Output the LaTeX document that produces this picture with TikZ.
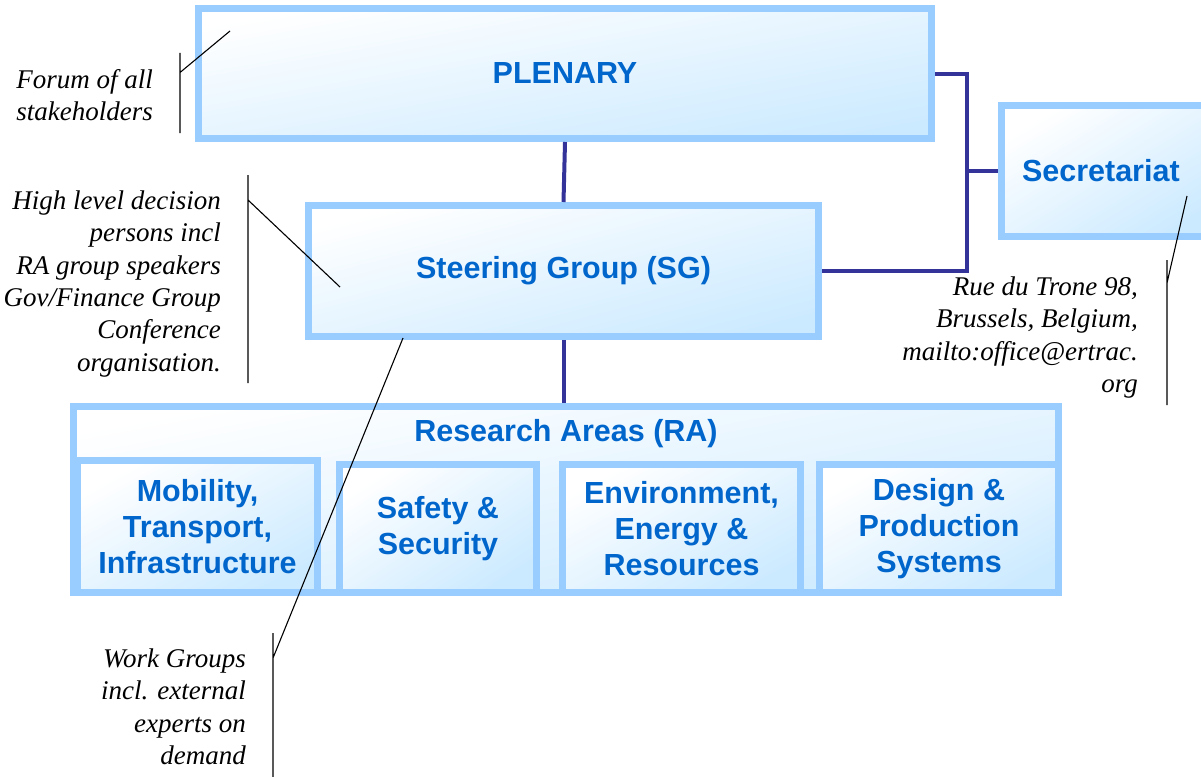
\documentclass[tikz,border=0pt]{standalone}
\usepackage{fontspec}
\setmainfont{Liberation Serif}
\setsansfont{Liberation Sans}
\usepackage{tikz}
\usetikzlibrary{positioning}

\definecolor{boxline}{RGB}{153,204,255}
\definecolor{boxfill}{RGB}{204,234,255}
\definecolor{boxtext}{RGB}{0,102,204}
\definecolor{wireblue}{RGB}{51,51,153}

\newcommand{\boxfont}{\fontsize{30.5}{36}\selectfont\sffamily\bfseries}
\newcommand{\notefont}{\fontsize{27}{32.3}\selectfont\itshape}

\tikzset{
  orgbox/.style 2 args={draw=boxline, line width=7pt, top color=white, bottom color=boxfill,
    minimum width=#1, minimum height=#2, shading angle={atan(#2/#1)},
    inner sep=0pt, outer sep=3.5pt, align=center, text=boxtext, font=\boxfont},
  wire/.style={draw=wireblue, line width=4pt},
  note/.style={align=right, font=\notefont, inner sep=0pt, anchor=north east},
  leader/.style={draw=black, line width=1.1pt}
}

\begin{document}
\begin{tikzpicture}[x=1pt, y=-1pt]
  \clip (0,0) rectangle (1201,776);

  % Plenary, steering group and secretariat
  \node[orgbox={733}{130}] (plenary) at (565,73.5) {PLENARY};
  \node[orgbox={510}{131}] (steer) at (563.5,271) {Steering Group (SG)};
  \node[orgbox={216}{131}, anchor=west, text width=175, inner xsep=20.5, align=left]
    (secr) at (998,171) {Secretariat};

  % Research areas
  \node[orgbox={985}{186}] (ra) at (566,499.5) {};
  \node[text=boxtext, font=\boxfont] (ratitle) at (566,434) {Research Areas (RA)};
  \node[orgbox={240}{132}] (mobility) at (197.5,526.5) {Mobility,\\Transport,\\Infrastructure};
  \node[orgbox={197}{128}] (safety) at (438,528.5) {Safety \&\\Security};
  \node[orgbox={238}{128}] (environment) at (681.5,528.5) {Environment,\\Energy \&\\Resources};
  \node[orgbox={239}{128}] (design) at (939,528.5) {Design \&\\Production\\Systems};

  % Connections
  \coordinate (bus) at (967,171);
  \draw[wire] (plenary.south) -- (steer.north);
  \draw[wire] (steer.south) -- (steer.south |- ra.north);
  \draw[wire] (plenary.east) -| (bus) |- (steer.east);
  \draw[wire] (bus) -- (secr.west);

  % Side notes
  \node[note] (forum) at (153,69.3) {Forum of all\\stakeholders};
  \node[note] (highlevel) at (221,190.6) {High level decision\\persons incl\\RA group speakers\\Gov/Finance Group\\Conference\\organisation.};
  \node[note] (address) at (1138,276.6) {Rue du Trone 98,\\Brussels, Belgium,\\mailto:office@ertrac.\\org};
  \node[note] (workgroups) at (246,648.6) {Work Groups\\incl. external\\experts on\\demand};

  % Leaders of the side notes
  \foreach \n/\x/\ya/\yb/\yk/\tx/\ty in {forum/180/53/133/72.5/230/31,
    highlevel/248/175/383/200/340/287, address/1167/260/405/283/1187/196,
    workgroups/273/633/780/658/403/338}
  {
    \coordinate (\n top) at (\x,\ya);
    \coordinate (\n bottom) at (\x,\yb);
    \coordinate (\n knee) at (\x,\yk);
    \coordinate (\n tip) at (\tx,\ty);
    \draw[leader] (\n top) -- (\n bottom) (\n knee) -- (\n tip);
  }
\end{tikzpicture}
\end{document}
